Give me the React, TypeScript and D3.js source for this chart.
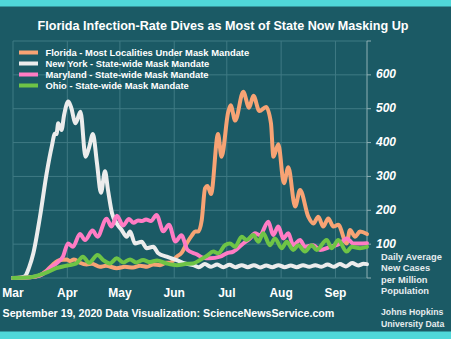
import React from "react";
import * as d3 from "d3";

// ---- data (day offset from 2020-03-01, daily average new cases per million) ----
const monthTicks = ["Mar", "Apr", "May", "Jun", "Jul", "Aug", "Sep"];
const yTickValues = [100, 200, 300, 400, 500, 600];

const floridaDays = [0, 9.7, 15.4, 18.8, 22.8, 26.8, 30.6, 32.5, 34.8, 38.2, 42, 45, 49.6, 53, 59.2, 63.9, 68.5, 72.5, 76.5, 80, 83.9, 87.3, 89.6, 93.4, 96.3, 99.1, 102, 103.9, 105.7, 107.7, 109.6, 111, 113, 117, 119, 122.8, 124.2, 126.8, 131.4, 134.7, 137.2, 140.6, 144.4, 147.2, 148.6, 151.4, 154.6, 157.1, 161, 163.8, 168.5, 171.4, 174.2, 177, 179.9, 182.8, 185.6, 190.4, 192.3, 195.2, 198, 202];
const floridaValues = [0, 2, 8, 20, 40, 53, 55, 50, 55, 45, 40, 42, 33, 36, 29, 33, 31, 36, 33, 40, 38, 45, 45, 63, 75, 102, 125, 137, 137, 171, 265, 272, 248, 425, 358, 490, 510, 465, 550, 503, 538, 493, 505, 457, 358, 395, 280, 327, 211, 260, 181, 161, 181, 152, 176, 152, 157, 102, 142, 122, 137, 130];

const newYorkDays = [0, 4, 6.8, 9.1, 11.6, 15.4, 19.2, 22.1, 24, 24.8, 25.8, 27.7, 29.1, 31.5, 33.1, 35.7, 38.5, 41.4, 43.4, 45.6, 47.9, 50.2, 52.5, 54.2, 56.5, 59.2, 62, 64.9, 66.8, 69.6, 73.4, 76.3, 80, 82.9, 87.7, 93.4, 98.1, 102.9, 106, 109.5, 113, 116.5, 120, 123.5, 127, 130.5, 134, 137.5, 141, 144.5, 148, 151.5, 155, 158.5, 162, 165.5, 169, 172.5, 176, 179.5, 183, 186.5, 190, 193.5, 197, 200, 202];
const newYorkValues = [0, 1, 5, 30, 73, 181, 309, 388, 427, 425, 457, 437, 480, 521, 505, 457, 491, 358, 385, 425, 340, 252, 315, 260, 191, 161, 142, 122, 137, 102, 107, 88, 92, 73, 63, 53, 43, 38, 32, 41, 33, 40, 32, 39, 32, 38, 32, 38, 31, 37, 32, 38, 32, 37, 32, 38, 33, 38, 33, 40, 33, 41, 34, 44, 37, 42, 41];

const marylandDays = [0, 9.7, 15.4, 19, 21.7, 24.7, 28.5, 31.4, 34.2, 38.2, 41.1, 45.4, 48.2, 53.4, 56.2, 59.3, 62.8, 66.2, 68.8, 71.3, 73.6, 75.9, 78.7, 81.9, 85.8, 89, 92.7, 96.1, 99.6, 104.8, 108.4, 112.4, 118.1, 121.9, 125.7, 131.4, 135.2, 138.1, 140.9, 145.7, 148.5, 151.4, 154.2, 157.1, 159.9, 163.8, 166.6, 171.4, 175.2, 180.9, 186.6, 190.4, 194.2, 202];
const marylandValues = [0, 2, 8, 19, 32, 43, 63, 102, 92, 130, 112, 140, 122, 175, 152, 184, 155, 174, 163, 170, 168, 173, 168, 186, 138, 157, 108, 126, 83, 70, 60, 58, 63, 73, 78, 102, 117, 132, 127, 166, 127, 152, 117, 132, 97, 112, 92, 97, 83, 92, 102, 117, 102, 103];

const ohioDays = [0, 9.7, 15.2, 20, 24.7, 28.5, 32.4, 36.1, 39.9, 43.4, 48.2, 51.5, 55.3, 59.2, 62.9, 66.8, 70.2, 74.2, 78.2, 82.2, 87.7, 93.4, 99.1, 102.7, 106.7, 110.5, 114.3, 117.1, 121, 123.8, 126.7, 130.5, 133.3, 137.1, 140, 142.8, 146.6, 149.5, 153.3, 156.2, 159.9, 162.8, 166.6, 170.4, 173.3, 179, 181.9, 185.6, 190.4, 193.3, 198, 202];
const ohioValues = [0, 2, 9, 18, 29, 34, 38, 43, 63, 45, 68, 53, 43, 58, 46, 55, 46, 53, 47, 52, 43, 38, 42, 43, 53, 65, 78, 73, 97, 102, 92, 122, 112, 127, 107, 132, 97, 117, 88, 107, 83, 97, 78, 97, 83, 112, 88, 112, 78, 92, 88, 92];

const seriesNames = [
  "Florida - Most Localities Under Mask Mandate",
  "New York - State-wide Mask Mandate",
  "Maryland - State-wide Mask Mandate",
  "Ohio - State-wide Mask Mandate",
];
const seriesColors = ["#f7a374", "#ececec", "#ff7cc4", "#6ec446"];

const titleText = "Florida Infection-Rate Dives as Most of State Now Masking Up";
const footerText = "September 19, 2020 Data Visualization: ScienceNewsService.com";
const unitLines = ["Daily Average", "New Cases", "per Million", "Population"];
const sourceLines = ["Johns Hopkins", "University Data"];

const W = 451;
const H = 339;
const start = Date.UTC(2020, 2, 1);
const end = Date.UTC(2020, 8, 19);
const dayMs = 864e5;

export default function App() {
  const x = d3.scaleUtc().domain([new Date(start), new Date(end)]).range([13, 367]);
  const y = d3.scaleLinear().domain([0, 700]).range([278, 41]);
  const months = d3.utcMonth.range(new Date(start), new Date(end + dayMs));
  const gridY = d3.range(0, 701, 100);

  const series = [
    { days: floridaDays, values: floridaValues },
    { days: newYorkDays, values: newYorkValues },
    { days: marylandDays, values: marylandValues },
    { days: ohioDays, values: ohioValues },
  ];
  const line = d3
    .line<[number, number]>()
    .x((d) => x(new Date(start + d[0] * dayMs)))
    .y((d) => y(d[1]))
    .curve(d3.curveMonotoneX);

  const font = "'Liberation Sans', Arial, sans-serif";

  return (
    <svg width={W} height={H} style={{ position: "absolute", left: 0, top: 0, display: "block" }} fontFamily={font}>
      <rect x={0} y={0} width={W} height={H} fill="#1b5a65" />
      <rect x={0} y={0} width={W} height={6.5} fill="#4fd7d9" />
      <rect x={0} y={331.5} width={W} height={H - 331.5} fill="#4fd7d9" />

      {/* grid */}
      {gridY.map((v) => (
        <line key={"gy" + v} x1={13} x2={367} y1={y(v)} y2={y(v)} stroke="#3f7a84" strokeWidth={1} />
      ))}
      {months.map((m, i) => (
        <line key={"gx" + i} x1={x(m)} x2={x(m)} y1={41} y2={278} stroke="#3f7a84" strokeWidth={1} />
      ))}
      <line x1={367} x2={367} y1={41} y2={278} stroke="#8fb0b5" strokeWidth={1} />
      {gridY.map((v) => (
        <line key={"tk" + v} x1={367} x2={371} y1={y(v)} y2={y(v)} stroke="#8fb0b5" strokeWidth={1} />
      ))}

      {/* lines */}
      {series.map((s, i) => (
        <path
          key={"s" + i}
          d={line(s.days.map((d, j) => [d, s.values[j]] as [number, number])) || ""}
          fill="none"
          stroke={seriesColors[i]}
          strokeWidth={4}
          strokeLinejoin="round"
          strokeLinecap="round"
        />
      ))}

      {/* y tick labels */}
      {yTickValues.map((v) => (
        <text key={"yl" + v} x={376} y={y(v) + 3.5} fill="#ffffff" fontSize={12} fontWeight="bold" fontStyle="italic">
          {v}
        </text>
      ))}

      {/* month labels */}
      {months.map((m, i) => (
        <text key={"ml" + i} x={x(m)} y={297} fill="#ffffff" fontSize={12} fontWeight="bold" textAnchor="middle">
          {monthTicks[i]}
        </text>
      ))}

      {/* title */}
      <text x={223} y={29.5} fill="#ffffff" fontSize={12.6} fontWeight="bold" textAnchor="middle">
        {titleText}
      </text>

      {/* legend */}
      {seriesNames.map((n, i) => (
        <g key={"lg" + i}>
          <rect x={19} y={50.5 + i * 11} width={19} height={4} fill={seriesColors[i]} />
          <text x={45.5} y={55.7 + i * 11} fill="#ffffff" fontSize={9.4} fontWeight="bold">
            {n}
          </text>
        </g>
      ))}

      {/* unit text */}
      {unitLines.map((t, i) => (
        <text key={"u" + i} x={381} y={259.5} dy={i * 11.6} fill="#e6ecee" fontSize={9.3} fontWeight="bold">
          {t}
        </text>
      ))}
      {sourceLines.map((t, i) => (
        <text key={"src" + i} x={381} y={315 + i * 11.5} fill="#e6ecee" fontSize={8.7} fontWeight="bold">
          {t}
        </text>
      ))}

      <text x={2.5} y={316.5} fill="#ffffff" fontSize={10.7} fontWeight="bold">
        {footerText}
      </text>
    </svg>
  );
}
